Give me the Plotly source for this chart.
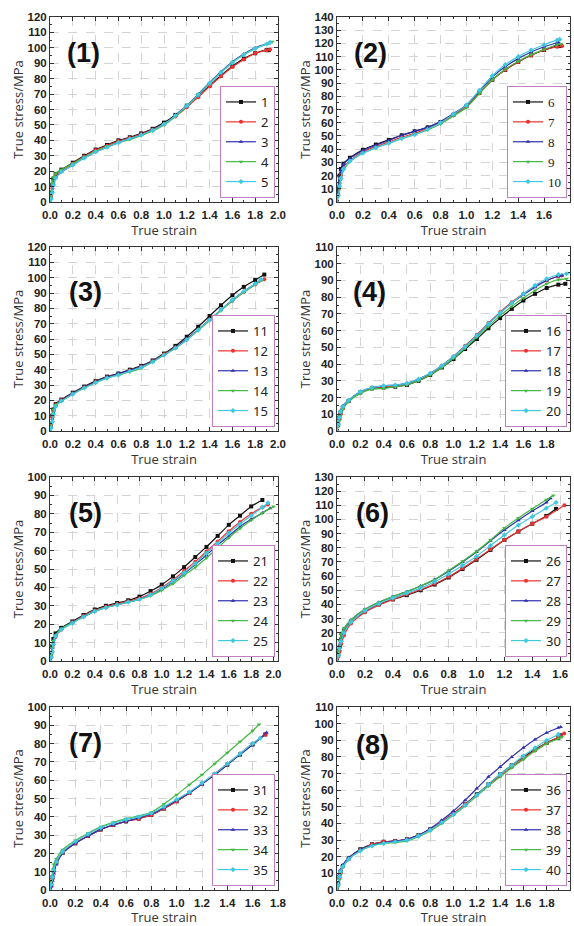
import plotly.graph_objects as go

# ---------------- data ----------------
P1_STRAIN = [0, 0.01, 0.02, 0.03, 0.05, 0.1, 0.2, 0.3, 0.4, 0.5, 0.6, 0.7, 0.8, 0.9, 1.0,
             1.1, 1.2, 1.3, 1.4, 1.5, 1.6, 1.7, 1.8, 1.9]
P1_STRESS = {
    "1": [0, 6, 11, 15, 18, 21, 25.5, 30, 34, 37, 40, 42, 44.5, 47.5, 51.5, 56.5, 62.5, 69, 75.5, 82, 88, 93, 96.5, 98.5],
    "2": [0, 4, 9, 13, 17, 20.5, 25, 29.5, 33.5, 36.5, 39.5, 41.5, 44, 47, 50.5, 55.5, 61.5, 68, 75, 81.5, 87.5, 92.5, 96.5, 98.5],
    "3": [0, 3, 7, 12, 16, 19.5, 24, 28.5, 32.5, 35.5, 38.5, 41, 43.5, 46.5, 50.5, 56, 62.5, 70, 77.5, 84.5, 91, 96, 100, 102.5],
    "4": [0, 6, 12, 16, 18.5, 21, 25, 29, 33, 36, 38.5, 40.5, 43, 46, 50, 55.5, 62, 69.5, 77, 84, 90.5, 95.5, 99.5, 102.5],
    "5": [0, 2, 6, 11, 15.5, 19.5, 24, 28.5, 32.5, 35.5, 38.5, 41, 43.5, 46.5, 50.5, 56, 62.5, 69.5, 77, 84, 90.5, 95.5, 99.5, 102.5],
}
P1_END = {"1": (1.92, 98.5), "2": (1.93, 99), "3": (1.92, 103), "4": (1.95, 104), "5": (1.93, 103.5)}

P2_STRAIN = [0, 0.01, 0.02, 0.03, 0.05, 0.1, 0.2, 0.3, 0.4, 0.5, 0.6, 0.7, 0.8, 0.9, 1.0,
             1.1, 1.2, 1.3, 1.4, 1.5, 1.6, 1.7]
P2_STRESS = {
    "6": [0, 10, 20, 25, 29, 33.5, 39.5, 43.5, 47, 50.5, 53.5, 56.5, 60.5, 66, 72.5, 82.5, 92.5, 100, 106, 111, 115, 118],
    "7": [0, 6, 14, 20, 26, 31.5, 38, 42, 45.5, 49, 52, 55.5, 60, 66, 72.5, 82.5, 92.5, 100, 106, 111, 115, 117.5],
    "8": [0, 12, 20, 24, 28.5, 33, 39, 43, 46.5, 50.5, 53.5, 56.5, 61, 67, 73.5, 84, 94.5, 102.5, 108.5, 113.5, 117.5, 120.5],
    "9": [0, 4, 10, 17, 24, 30.5, 37, 41, 44.5, 48, 51, 54.5, 59, 65, 71.5, 82, 92.5, 100.5, 106.5, 111.5, 115.5, 119],
    "10": [0, 5, 12, 18, 25, 31, 37, 41, 44.5, 48, 51, 55, 60, 66.5, 73.5, 84.5, 95.5, 104, 110, 115, 119, 122.5],
}
P2_END = {"6": (1.72, 118), "7": (1.74, 118), "8": (1.71, 121), "9": (1.73, 119.5), "10": (1.72, 123)}

P3_STRAIN = [0, 0.01, 0.02, 0.03, 0.05, 0.1, 0.2, 0.3, 0.4, 0.5, 0.6, 0.7, 0.8, 0.9, 1.0,
             1.1, 1.2, 1.3, 1.4, 1.5, 1.6, 1.7, 1.8]
P3_STRESS = {
    "11": [0, 5, 10, 14, 17.5, 20.5, 25, 29, 32.5, 35.5, 37.5, 40, 42.5, 46, 50.5, 55.5, 61.5, 68, 75, 82, 88.5, 94, 98.5],
    "12": [0, 4, 9, 13, 17, 20, 24.5, 28.5, 32, 35, 37, 39.5, 42, 45.5, 50, 54.5, 60, 66, 72.5, 79, 85, 90.5, 95.5],
    "13": [0, 3, 8, 12, 16.5, 20, 24.5, 28.5, 32, 35, 37.5, 39.5, 42, 45.5, 49.5, 54.5, 60, 66, 72.5, 79, 85.5, 91, 96],
    "14": [0, 5, 10, 14, 17, 19.5, 24, 28, 31.5, 34.5, 36.5, 38.5, 41, 45, 49.5, 54, 59.5, 65.5, 72, 78.5, 85, 90.5, 95.5],
    "15": [0, 2, 6, 11, 16, 19.5, 24, 28, 31.5, 34.5, 36.5, 39, 41.5, 45, 49.5, 54, 59.5, 66, 72.5, 79, 85.5, 91, 96],
}
P3_END = {"11": (1.88, 102), "12": (1.88, 99), "13": (1.85, 98.5), "14": (1.86, 98.5), "15": (1.85, 99)}

P4_STRAIN = [0, 0.01, 0.02, 0.03, 0.05, 0.1, 0.2, 0.3, 0.4, 0.5, 0.6, 0.7, 0.8, 0.9, 1.0,
             1.1, 1.2, 1.3, 1.4, 1.5, 1.6, 1.7, 1.8, 1.9]
P4_STRESS = {
    "16": [0, 4, 8, 11, 14, 18, 23, 25.5, 26, 26.5, 27.5, 30, 33.5, 38, 43, 49, 55, 61.5, 67.5, 73, 78, 82, 85.5, 87.5],
    "17": [0, 3, 7, 10, 13.5, 18, 23, 25.5, 26.5, 27, 28, 30.5, 34, 39, 44.5, 51, 57.5, 64.5, 71, 77, 82, 86.5, 90, 92.5],
    "18": [0, 5, 9, 12, 15, 18.5, 23.5, 26, 27, 27.5, 28.5, 31, 34.5, 39, 44.5, 50.5, 57, 64, 70.5, 76.5, 81.5, 86, 90, 92.5],
    "19": [0, 3, 6, 9, 13, 17.5, 22.5, 25, 25.5, 26.5, 27.5, 30, 33.5, 38, 43.5, 49.5, 56, 62.5, 69, 74.5, 79.5, 84, 88, 90.5],
    "20": [0, 4, 8, 11.5, 14.5, 18.5, 23.5, 26, 27, 27.5, 28.5, 31, 34.5, 39, 44.5, 50.5, 57, 64, 70.5, 76.5, 82, 87, 91, 93.5],
}
P4_END = {"16": (1.96, 88), "17": (1.93, 93), "18": (1.93, 93), "19": (1.97, 91), "20": (1.97, 94)}

P5_STRAIN = [0, 0.01, 0.02, 0.03, 0.05, 0.1, 0.2, 0.3, 0.4, 0.5, 0.6, 0.7, 0.8, 0.9, 1.0,
             1.1, 1.2, 1.3, 1.4, 1.5, 1.6, 1.7, 1.8, 1.9]
P5_STRESS = {
    "21": [0, 4, 8, 12, 15, 18, 21.5, 25, 28, 30, 31.5, 33, 35, 38, 41.5, 46, 51, 56.5, 62, 68, 74, 79, 84, 87.5],
    "22": [0, 2, 5, 9, 13, 17, 21, 24.5, 27.5, 29.5, 31, 32.5, 34, 36.5, 40, 44, 49, 54, 59.5, 65, 70.5, 75.5, 80, 83.5],
    "23": [0, 3, 7, 10.5, 14, 17.5, 21, 24, 27, 29, 30.5, 32, 33.5, 36, 39, 43, 47.5, 52.5, 57.5, 63, 68, 73, 77, 80.5],
    "24": [0, 3, 7, 11, 14, 17.5, 21, 24, 27, 29, 30.5, 32, 33.5, 35.5, 38.5, 42, 46.5, 51, 56, 61.5, 67, 72, 76.5, 80.5],
    "25": [0, 2, 5, 9, 13.5, 17, 20.5, 24, 27, 29, 30.5, 32, 33.5, 36, 39.5, 43.5, 48, 53, 58.5, 64, 69.5, 74.5, 79, 83.5],
}
P5_END = {"21": None, "22": (1.95, 85), "23": (1.97, 83), "24": (2.0, 84), "25": (1.95, 86)}

P6_STRAIN = [0, 0.01, 0.02, 0.03, 0.05, 0.1, 0.2, 0.3, 0.4, 0.5, 0.6, 0.7, 0.8, 0.9, 1.0,
             1.1, 1.2, 1.3, 1.4, 1.5]
P6_STRESS = {
    "26": [0, 5, 10, 15, 21, 27.5, 35, 40, 43.5, 46.5, 50, 54, 59, 65, 71.5, 78.5, 85.5, 91.5, 97, 102.5],
    "27": [0, 3, 7, 12, 18, 26.5, 34.5, 39.5, 43.5, 47, 50.5, 54.5, 59.5, 65.5, 72, 79, 85.5, 91.5, 97, 102],
    "28": [0, 8, 15, 19, 23, 29, 36.5, 41.5, 45.5, 49, 53, 57.5, 63.5, 70, 77, 85, 92.5, 99.5, 106, 112],
    "29": [0, 7, 14, 19, 23, 29, 36.5, 41.5, 45.5, 49, 53, 57.5, 64, 70.5, 77.5, 85.5, 94, 101, 107.5, 114],
    "30": [0, 4, 9, 14, 20, 27.5, 35.5, 40.5, 44.5, 48, 51.5, 56, 61.5, 67.5, 74, 81.5, 89, 96, 102, 108],
}
P6_END = {"26": (1.57, 107.5), "27": (1.63, 110), "28": (1.53, 115), "29": (1.55, 117), "30": (1.57, 112)}

P7_STRAIN = [0, 0.01, 0.02, 0.03, 0.05, 0.1, 0.2, 0.3, 0.4, 0.5, 0.6, 0.7, 0.8, 0.9, 1.0,
             1.1, 1.2, 1.3, 1.4, 1.5, 1.6]
P7_STRESS = {
    "31": [0, 3, 7, 11, 15, 20.5, 25.5, 29.5, 33, 35.5, 37.5, 39, 41, 44.5, 48.5, 53, 58, 63, 68.5, 74, 79.5],
    "32": [0, 2, 6, 10, 15, 20.5, 25.5, 29.5, 33, 35.5, 37.5, 39, 41, 44.5, 48.5, 53, 58, 63.5, 69, 74.5, 80],
    "33": [0, 2, 5, 9, 14, 20, 25.5, 29.5, 33, 35.5, 37.5, 39.5, 41.5, 45, 49, 53, 58, 63, 68.5, 74, 79.5],
    "34": [0, 5, 10, 14, 17, 22, 27, 31, 34.5, 37, 39, 40.5, 42.5, 47, 52, 57.5, 63, 69, 75, 81, 87],
    "35": [0, 3, 7, 11, 15.5, 21, 26.5, 30.5, 34, 36.5, 38.5, 40, 42, 45.5, 49.5, 53.5, 58.5, 63.5, 69, 74.5, 80],
}
P7_END = {"31": (1.7, 85), "32": (1.7, 85), "33": (1.71, 86), "34": (1.65, 90.5), "35": (1.66, 83)}

P8_STRAIN = [0, 0.01, 0.02, 0.03, 0.05, 0.1, 0.2, 0.3, 0.4, 0.5, 0.6, 0.7, 0.8, 0.9, 1.0,
             1.1, 1.2, 1.3, 1.4, 1.5, 1.6, 1.7, 1.8, 1.9]
P8_STRESS = {
    "36": [0, 4, 8, 11, 14.5, 19, 24.5, 27.5, 29, 29.5, 30.5, 33, 36.5, 41, 46, 51.5, 57.5, 63.5, 69.5, 75, 80, 84.5, 88.5, 91.5],
    "37": [0, 3, 7, 10, 14, 18.5, 24, 27.5, 29, 29.5, 30.5, 33, 36.5, 41, 46, 51.5, 57, 63, 68.5, 74, 79, 84, 88.5, 92],
    "38": [0, 4, 9, 12, 15, 19.5, 24, 27, 28.5, 29.5, 30.5, 33, 37, 42, 47.5, 54, 61, 68, 74, 80, 85.5, 90.5, 94.5, 97.5],
    "39": [0, 2, 6, 10, 13.5, 18.5, 23.5, 26.5, 28, 28.5, 29.5, 32, 35.5, 40, 45, 50.5, 56.5, 62.5, 68, 73.5, 78.5, 83.5, 88, 91],
    "40": [0, 3, 8, 11, 14, 18.5, 23.5, 26.5, 28, 29, 30, 32.5, 36, 40.5, 45.5, 51, 57, 63.5, 69.5, 75, 80.5, 85.5, 90, 93.5],
}
P8_END = {"36": (1.92, 93), "37": (1.95, 94), "38": (1.92, 98), "39": (1.93, 92), "40": None}

PANELS = [
    ("(1)", P1_STRAIN, P1_STRESS, P1_END, [0, 2.0], [0, 120]),
    ("(2)", P2_STRAIN, P2_STRESS, P2_END, [0, 1.8], [0, 140]),
    ("(3)", P3_STRAIN, P3_STRESS, P3_END, [0, 2.0], [0, 120]),
    ("(4)", P4_STRAIN, P4_STRESS, P4_END, [0, 2.0], [0, 110]),
    ("(5)", P5_STRAIN, P5_STRESS, P5_END, [0, 2.04], [0, 100]),
    ("(6)", P6_STRAIN, P6_STRESS, P6_END, [0, 1.67], [0, 130]),
    ("(7)", P7_STRAIN, P7_STRESS, P7_END, [0, 1.8], [0, 100]),
    ("(8)", P8_STRAIN, P8_STRESS, P8_END, [0, 2.0], [0, 110]),
]

COLORS = ["#111111", "#ee3030", "#3030b0", "#40b840", "#40c8e0"]
SYMBOLS = ["square", "circle", "triangle-up", "triangle-down", "diamond"]

# ---------------- layout geometry ----------------
W, H = 574, 926
COLS_PX = [(50, 278), (337, 570)]
ROWS_PX = [(17, 202), (247, 431), (477, 661), (707, 890)]
LABEL_OFF = [(33, 36), (33, 36), (35, 45), (32, 45), (35, 36), (35, 36), (35, 36), (35, 38)]

fig = go.Figure()
TICKFONT = dict(family="Liberation Sans", size=11.5, color="#222222", weight="bold")
TITLEFONT = dict(family="Open Sans", size=13, color="#333333")

for i, (tag, strain, stress, ends, xr, yr) in enumerate(PANELS):
    k = i + 1
    r, c = divmod(i, 2)
    x0, x1 = COLS_PX[c]
    t, b = ROWS_PX[r]
    xdom = [x0 / W, x1 / W]
    ydom = [1 - b / H, 1 - t / H]
    xa = "x" if k == 1 else f"x{k}"
    ya = "y" if k == 1 else f"y{k}"
    lg = "legend" if k == 1 else f"legend{k}"
    for j, (name, ys) in enumerate(stress.items()):
        xs = list(strain[:len(ys)])
        yv = list(ys)
        if ends[name] is not None:
            xs.append(ends[name][0])
            yv.append(ends[name][1])
        fig.add_trace(go.Scatter(
            x=xs, y=yv, name=name, mode="lines+markers",
            line=dict(color=COLORS[j], width=1.2, shape="spline", smoothing=0.6),
            marker=dict(symbol=SYMBOLS[j], size=4, color=COLORS[j]),
            xaxis=xa, yaxis=ya, legend=lg, showlegend=True,
        ))
    axis_common = dict(showline=True, linecolor="#333333", linewidth=1, mirror="ticks",
                       ticks="inside", ticklen=4, tickcolor="#333333", zeroline=False,
                       showgrid=True, gridcolor="#d4d4d4", griddash="dash", gridwidth=1,
                       tickfont=TICKFONT, automargin=False)
    xkey = "xaxis" if k == 1 else f"xaxis{k}"
    ykey = "yaxis" if k == 1 else f"yaxis{k}"
    fig.update_layout({
        xkey: dict(domain=xdom, anchor=ya, range=xr, dtick=0.2, tick0=0, tickformat=".1f",
                   ticklabelstandoff=2,
                   minor=dict(ticks="inside", ticklen=2, dtick=0.1, tickcolor="#333333", showgrid=False),
                   title=dict(text="True strain", font=TITLEFONT, standoff=6), **axis_common),
        ykey: dict(domain=ydom, anchor=xa, range=yr, dtick=10, tick0=0,
                   minor=dict(ticks="inside", ticklen=2, dtick=5, tickcolor="#333333", showgrid=False),
                   title=dict(text="True stress/MPa", font=TITLEFONT, standoff=0), **axis_common),
        lg: dict(x=(x1 - 3) / W, y=1 - (b - 4) / H, xanchor="right", yanchor="bottom",
                 bgcolor="white", bordercolor="#c080c0", borderwidth=1,
                 itemwidth=30, tracegroupgap=0,
                 font=dict(family="Liberation Serif" if k == 2 else "Noto Sans", size=13, color="#222222")),
    })
    ox, oy = LABEL_OFF[i]
    fig.add_annotation(x=(x0 + ox) / W, y=1 - (t + oy) / H, xref="paper", yref="paper",
                       text=tag, showarrow=False, xanchor="center", yanchor="middle",
                       font=dict(family="Liberation Sans", size=27, color="#111111", weight="bold"))

fig.update_layout(width=W, height=H, margin=dict(l=0, r=0, t=0, b=0),
                  paper_bgcolor="white", plot_bgcolor="white")

fig.write_html("out.html", config={"displayModeBar": False},
               post_script="document.body.style.margin='0';document.body.style.overflow='hidden';")
